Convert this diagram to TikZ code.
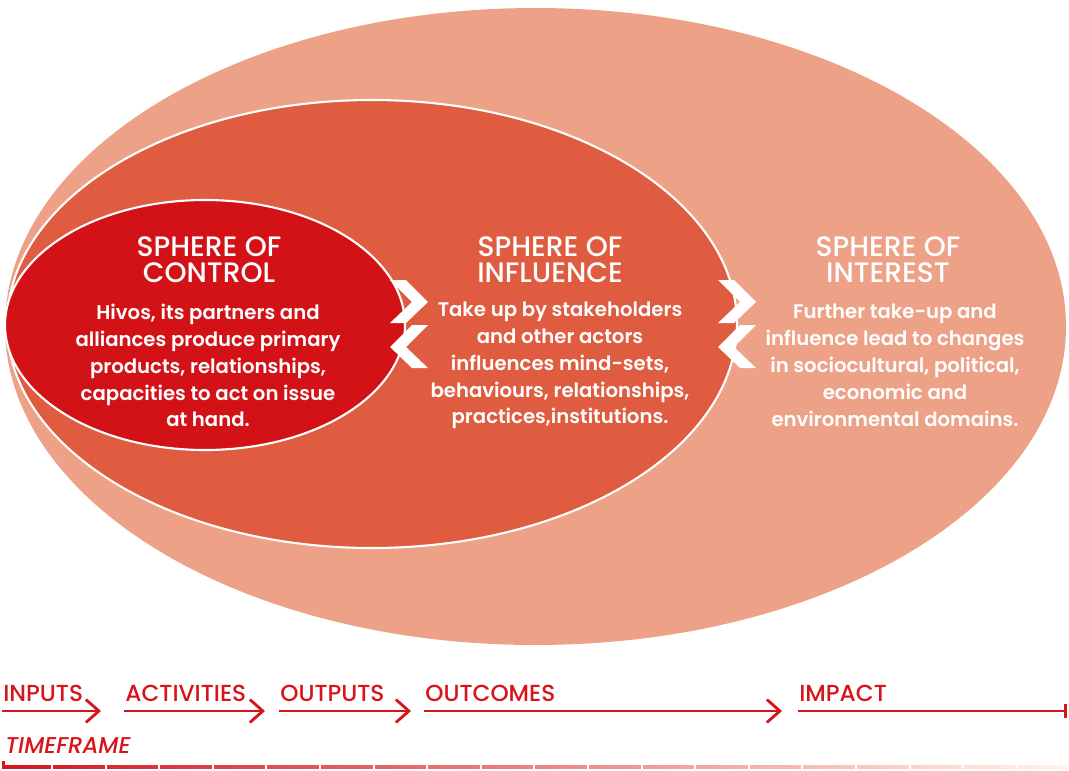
\documentclass[tikz,border=0pt]{standalone}
\usepackage{fontspec}
\setmainfont{Poppins}
\newfontfamily\mediumfont{Poppins}[UprightFont=* Medium, ItalicFont=* Medium Italic]
\newfontfamily\semifont{Poppins}[UprightFont=* SemiBold]
\usetikzlibrary{arrows.meta}
\definecolor{interestfill}{HTML}{EDA186}
\definecolor{influencefill}{HTML}{DF5C41}
\definecolor{controlfill}{HTML}{D31218}
\definecolor{linered}{HTML}{D7141A}
\definecolor{lineorange}{HTML}{E25A42}
\definecolor{linefade}{HTML}{FFF4EE}

\begin{document}
\begin{tikzpicture}[x=0.02cm, y=-0.02cm,
      sphere title/.style = {text=white, align=center, inner sep=0pt,
                             font=\mediumfont\fontsize{16}{14.8}\selectfont},
      sphere text/.style  = {text=white, align=center, inner sep=0pt,
                             font=\semifont\fontsize{11.2}{15.3}\selectfont},
      phase/.style        = {text=linered, anchor=base west, inner sep=0pt,
                             font=\mediumfont\fontsize{13.2}{14}\selectfont},
      arr/.style          = {linered, line width=1.6pt,
                             -{Straight Barb[length=0.26cm, width=0.46cm, line width=1.6pt]}},
      chev/.style         = {fill=white}
    ]
    \useasboundingbox (0,0) rectangle (1069,771);

    % spheres
    \fill[interestfill] (535.5,326.5) ellipse [x radius=530.5, y radius=318.5];
    \filldraw[influencefill, draw=white, line width=1.2pt]
      (372,324) ellipse [x radius=365, y radius=224];
    \filldraw[controlfill, draw=white, line width=1.2pt]
      (205,325) ellipse [x radius=200, y radius=125];

    % chevrons between the spheres
    \foreach \dx in {0, 328} {
      \fill[chev] (390+\dx,280) -- (406+\dx,280) -- (428+\dx,302) -- (406+\dx,323)
                  -- (390+\dx,323) -- (412+\dx,302) -- cycle;
      \fill[chev] (428+\dx,325) -- (412+\dx,325) -- (390+\dx,347) -- (412+\dx,368)
                  -- (428+\dx,368) -- (406+\dx,347) -- cycle;
    }

    \node[sphere title] (ctrlt) at (209,260) {SPHERE OF\\CONTROL};
    \node[sphere text]  (ctrlb) at (208,365.5)
      {Hivos, its partners and\\alliances produce primary\\products, relationships,\\capacities to act on issue\\at hand.};
    \node[sphere title] (inflt) at (550,260) {SPHERE OF\\INFLUENCE};
    \node[sphere text]  (inflb) at (560,365.5)
      {Take up by stakeholders\\and other actors\\influences mind-sets,\\behaviours, relationships,\\practices,institutions.};
    \node[sphere title] (intt)  at (888,260) {SPHERE OF\\INTEREST};
    \node[sphere text]  (intb)  at (895,365.5)
      {Further take-up and\\influence lead to changes\\in sociocultural, political,\\economic and\\environmental domains.};

    % phases
    \node[phase] (inp) at (3,701)   {INPUTS};
    \node[phase] (act) at (125,701) {ACTIVITIES};
    \node[phase] (out) at (280,701) {OUTPUTS};
    \node[phase] (oc)  at (425,701) {OUTCOMES};
    \node[phase] (imp) at (799,701) {IMPACT};
    \node[phase, font=\mediumfont\itshape\fontsize{13}{14}\selectfont] (tf) at (5,753) {TIMEFRAME};

    \coordinate (inp e) at (101,711);
    \coordinate (act e) at (265,711);
    \coordinate (out e) at (411,711);
    \coordinate (oc e)  at (782,711);
    \coordinate (imp e) at (1067,711);

    \draw[arr] (2,711)   -- (inp e);
    \draw[arr] (124,711) -- (act e);
    \draw[arr] (279,711) -- (out e);
    \draw[arr] (424,711) -- (oc e);
    \draw[linered, line width=1.6pt, -{Bar[width=0.28cm, line width=1.6pt]}] (798,711) -- (imp e);

    % timeframe bar
    \fill[left color=linered, middle color=lineorange, right color=linefade]
      (2,765.5) rectangle (1069,768.5);
    \fill[linered] (2,761) rectangle (5,769);
    \foreach \k in {0,...,18}
      \fill[white] ({51+\k*53.6},764.5) rectangle ++(2,5);
  \end{tikzpicture}
\end{document}
